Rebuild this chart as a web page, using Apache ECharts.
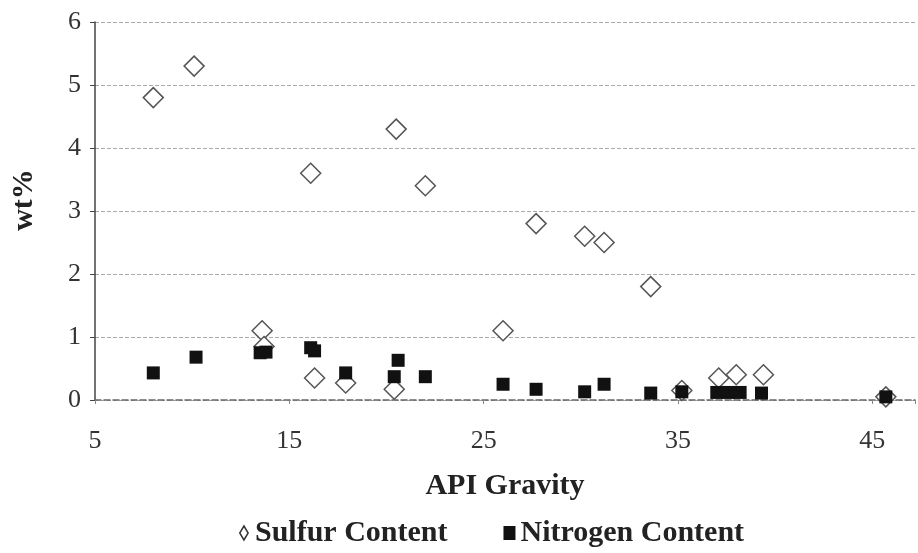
<!DOCTYPE html>
<html lang="en">
<head>
  <meta charset="UTF-8" />
  <title>Sulfur and Nitrogen Content vs API Gravity</title>
  <script src="https://cdn.jsdelivr.net/npm/echarts@6/dist/echarts.min.js"></script>
  <style>
    html, body { margin: 0; padding: 0; background: #fff; }
    #chart { width: 918px; height: 553px; }
  </style>
</head>
<body>
  <div id="chart"></div>
  <script>
    // API gravity / wt% pairs
    const sulfurApi = [8.0, 10.1, 13.6, 13.7, 16.3, 17.9, 20.4, 16.1, 20.5, 22.0, 26.0, 27.7, 30.2, 31.2, 33.6, 35.2, 37.1, 38.0, 39.4, 45.7];
    const sulfurWt  = [4.8, 5.3, 1.1, 0.85, 0.35, 0.27, 0.17, 3.6, 4.3, 3.4, 1.1, 2.8, 2.6, 2.5, 1.8, 0.15, 0.35, 0.4, 0.4, 0.05];

    const nitrogenApi = [8.0, 10.2, 13.5, 13.8, 16.1, 16.3, 17.9, 20.4, 20.6, 22.0, 26.0, 27.7, 30.2, 31.2, 33.6, 35.2, 37.0, 37.6, 38.2, 39.3, 45.7];
    const nitrogenWt  = [0.43, 0.68, 0.75, 0.76, 0.83, 0.78, 0.43, 0.37, 0.63, 0.37, 0.25, 0.17, 0.13, 0.25, 0.11, 0.13, 0.12, 0.12, 0.12, 0.11, 0.05];

    const xTicks = [5, 15, 25, 35, 45];

    const pairs = (xs, ys) => xs.map((x, i) => [x, ys[i]]);
    const font = 'Liberation Serif';

    const chart = echarts.init(document.getElementById('chart'));
    chart.setOption({
      animation: false,
      textStyle: { fontFamily: font, color: '#222' },
      grid: { left: 95, right: 0, top: 22, bottom: 153 },
      legend: {
        bottom: 0,
        left: 234,
        itemGap: 56,
        itemWidth: 12,
        itemHeight: 14,
        textStyle: { fontFamily: font, fontSize: 30, fontWeight: 'bold', color: '#222' },
        data: [
          {
            name: 'Sulfur Content',
            icon: 'path://M6,0 L12,10 L6,20 L0,10 Z',
            itemStyle: { color: '#fff', borderColor: '#333', borderWidth: 1.5 }
          },
          { name: 'Nitrogen Content', icon: 'rect', itemStyle: { color: '#111' } }
        ]
      },
      xAxis: {
        type: 'value',
        min: 5,
        max: 47.2,
        interval: 10,
        name: 'API Gravity',
        nameLocation: 'middle',
        nameGap: 71,
        nameTextStyle: { fontFamily: font, fontSize: 30, fontWeight: 'bold', color: '#222' },
        axisLine: { show: true, onZero: false, lineStyle: { color: '#666', type: 'dashed', width: 1.5 } },
        axisTick: { show: true, length: 4, inside: false, lineStyle: { color: '#888' } },
        axisLabel: {
          margin: 28,
          fontSize: 26,
          color: '#333',
          formatter: v => (xTicks.includes(v) ? String(v) : '')
        },
        splitLine: { show: false }
      },
      yAxis: {
        type: 'value',
        min: 0,
        max: 6,
        interval: 1,
        name: 'wt%',
        nameLocation: 'middle',
        nameGap: 56,
        nameTextStyle: { fontFamily: font, fontSize: 30, fontWeight: 'bold', color: '#222', padding: [0, 0, 0, 22] },
        axisLine: { show: true, lineStyle: { color: '#444', width: 1.5 } },
        axisTick: { show: true, length: 5, lineStyle: { color: '#444' } },
        axisLabel: { margin: 14, fontSize: 26, color: '#333' },
        splitLine: { show: true, lineStyle: { color: '#aaa', type: 'dashed', width: 1 } }
      },
      series: [
        {
          name: 'Sulfur Content',
          type: 'scatter',
          symbol: 'diamond',
          symbolSize: 20,
          itemStyle: { color: '#fff', opacity: 1, borderColor: '#555', borderWidth: 1.5 },
          data: pairs(sulfurApi, sulfurWt),
          z: 2
        },
        {
          name: 'Nitrogen Content',
          type: 'scatter',
          symbol: 'rect',
          symbolSize: 13,
          itemStyle: { color: '#111', opacity: 1 },
          data: pairs(nitrogenApi, nitrogenWt),
          z: 3
        }
      ]
    });
  </script>
</body>
</html>
